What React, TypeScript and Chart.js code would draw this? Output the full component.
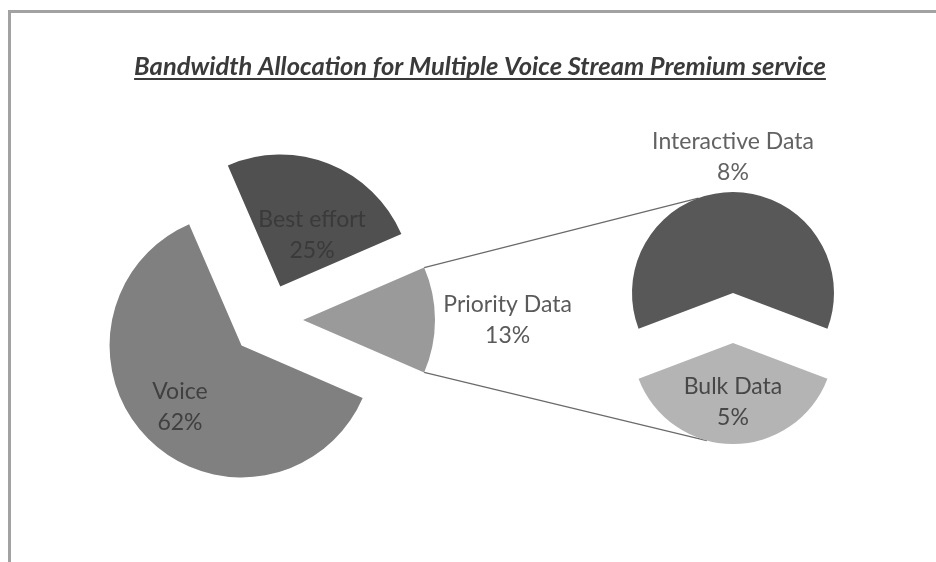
import React, { useEffect, useRef } from "react";
import { Chart, registerables } from "chart.js";
Chart.register(...registerables);

// ---- data ----
const TITLE = "Bandwidth Allocation for Multiple Voice Stream Premium service";
const mainLabels = ["Best effort", "Priority Data", "Voice"];
const mainValues = [25, 13, 62];
const subLabels = ["Interactive Data", "Bulk Data"];
const subValues = [8, 5];

// ---- styles ----
const mainColors = ["#505050", "#9a9a9a", "#808080"];
const subColors = ["#585858", "#b4b4b4"];
const mainTextColors = ["#3a3a3a", "#5a5a5a", "#404040"];
const subTextColors = ["#626262", "#474747"];
const mainLabelRadial = [0.46, 1.55, 0.66];
const mainLabelShift = [10, 0, 0];
const subLabelRadial = [1.35, 0.58];
const subLabelShift = [0, 0];
const LABEL_FONT = '23px Lato, "Open Sans", sans-serif';
const LINE_GAP = 31;

// explode distance (px) and drawn radius (px) per pie
const MAIN_EXPLODE = 36;
const MAIN_RADIUS = 132;
const SUB_EXPLODE = 25;
const SUB_RADIUS = 101;

const W = 936;
const H = 562;

function sum(a: number[]) {
  return a.reduce((s, v) => s + v, 0);
}

// Chart.js arcs translate by offset/4 and grow radius by (offset/4)*fix while
// trimming the angle; this returns the geometry that is actually drawn.
function radiusGrowth(el: any) {
  const t = (el.options.offset || 0) / 4;
  const fix = 1 - Math.sin(Math.min(Math.PI, el.circumference || 0));
  return { t, ro: t * fix };
}

function vertexOf(el: any) {
  const { t, ro } = radiusGrowth(el);
  const mid = (el.startAngle + el.endAngle) / 2;
  const r = el.outerRadius + ro;
  const ao = ro / (2 * Math.PI * r);
  return {
    vx: el.x + Math.cos(mid) * t,
    vy: el.y + Math.sin(mid) * t,
    mid,
    r,
    start: el.startAngle + ao,
    end: el.endAngle - ao,
  };
}

// keep every exploded slice at the dataset radius and full angle (like a classic exploded pie)
const explodeFixPlugin = {
  id: "explodeFix",
  afterDatasetUpdate(chart: any, args: any) {
    const meta = args.meta;
    meta.data.forEach((el: any) => {
      if (!el.options) return;
      const { ro } = radiusGrowth(el);
      const R = el.outerRadius;
      const ao = ro / (2 * Math.PI * R);
      el.outerRadius = R - ro;
      el.startAngle -= ao;
      el.endAngle += ao;
    });
  },
};

function makeLabelPlugin(labels: string[], values: number[], colors: string[], radial: number[], shift: number[]) {
  return {
    id: "sliceLabels",
    afterDatasetsDraw(chart: any) {
      const meta = chart.getDatasetMeta(0);
      const ctx = chart.ctx;
      ctx.save();
      ctx.font = LABEL_FONT;
      ctx.textAlign = "center";
      ctx.textBaseline = "middle";
      meta.data.forEach((el: any, i: number) => {
        const v = vertexOf(el);
        const a = v.mid + (shift[i] * Math.PI) / 180;
        const d = v.r * radial[i];
        const lx = v.vx + Math.cos(a) * d;
        const ly = v.vy + Math.sin(a) * d;
        ctx.fillStyle = colors[i];
        ctx.fillText(labels[i], lx, ly - LINE_GAP / 2);
        ctx.fillText(`${values[i]}%`, lx, ly + LINE_GAP / 2);
      });
      ctx.restore();
    },
  };
}

const titlePlugin = {
  id: "underlinedTitle",
  afterDraw(chart: any) {
    const ctx = chart.ctx;
    ctx.save();
    ctx.font = 'italic bold 25.5px Lato, "Open Sans", sans-serif';
    ctx.fillStyle = "#3a3a3a";
    ctx.textAlign = "center";
    ctx.textBaseline = "alphabetic";
    const cx = 480;
    const by = 75;
    ctx.fillText(TITLE, cx, by);
    const w = ctx.measureText(TITLE).width;
    ctx.strokeStyle = "#3a3a3a";
    ctx.lineWidth = 2;
    ctx.beginPath();
    ctx.moveTo(cx - w / 2, by + 4);
    ctx.lineTo(cx + w / 2, by + 4);
    ctx.stroke();
    ctx.restore();
  },
};

export default function App() {
  const mainRef = useRef<HTMLCanvasElement>(null);
  const subRef = useRef<HTMLCanvasElement>(null);

  useEffect(() => {
    const mainTotal = sum(mainValues);
    const pdIndex = 1;
    const before = sum(mainValues.slice(0, pdIndex));
    const mainRotation = 90 - ((before + mainValues[pdIndex] / 2) / mainTotal) * 360;
    const subTotal = sum(subValues);
    const subRotation = -((subValues[0] / 2) / subTotal) * 360;

    const main = new Chart(mainRef.current!, {
      type: "pie",
      data: {
        labels: mainLabels,
        datasets: [
          {
            data: mainValues,
            backgroundColor: mainColors,
            borderWidth: 0,
            offset: MAIN_EXPLODE * 4,
            radius: MAIN_RADIUS,
            rotation: mainRotation,
          } as any,
        ],
      },
      options: {
        responsive: false,
        animation: false,
        events: [],
        devicePixelRatio: 1,
        rotation: mainRotation,
        layout: { padding: { left: 0, right: 402, top: 78, bottom: 0 } },
        plugins: { legend: { display: false }, title: { display: false }, tooltip: { enabled: false } },
      } as any,
      plugins: [
        explodeFixPlugin,
        makeLabelPlugin(mainLabels, mainValues, mainTextColors, mainLabelRadial, mainLabelShift),
        titlePlugin,
      ],
    });

    const connectorPlugin = {
      id: "connectors",
      beforeDatasetsDraw(chart: any) {
        const pdEl = main.getDatasetMeta(0).data[pdIndex];
        const meta = chart.getDatasetMeta(0);
        if (!pdEl || !meta.data.length) return;
        const p = vertexOf(pdEl);
        const top = vertexOf(meta.data[0]);
        const bot = vertexOf(meta.data[1]);
        const aTop = (-110 * Math.PI) / 180;
        const aBot = (105 * Math.PI) / 180;
        const ctx = chart.ctx;
        ctx.save();
        ctx.strokeStyle = "#6a6a6a";
        ctx.lineWidth = 1.2;
        ctx.beginPath();
        ctx.moveTo(p.vx + Math.cos(p.start) * p.r, p.vy + Math.sin(p.start) * p.r);
        ctx.lineTo(top.vx + Math.cos(aTop) * top.r, top.vy + Math.sin(aTop) * top.r);
        ctx.moveTo(p.vx + Math.cos(p.end) * p.r, p.vy + Math.sin(p.end) * p.r);
        ctx.lineTo(bot.vx + Math.cos(aBot) * bot.r, bot.vy + Math.sin(aBot) * bot.r);
        ctx.stroke();
        ctx.restore();
      },
    };

    const sub = new Chart(subRef.current!, {
      type: "pie",
      data: {
        labels: subLabels,
        datasets: [
          {
            data: subValues,
            backgroundColor: subColors,
            borderWidth: 0,
            offset: SUB_EXPLODE * 4,
            radius: SUB_RADIUS,
            rotation: subRotation,
          } as any,
        ],
      },
      options: {
        responsive: false,
        animation: false,
        events: [],
        devicePixelRatio: 1,
        rotation: subRotation,
        layout: { padding: { left: 530, right: 0, top: 74, bottom: 0 } },
        plugins: { legend: { display: false }, title: { display: false }, tooltip: { enabled: false } },
      } as any,
      plugins: [
        explodeFixPlugin,
        connectorPlugin,
        makeLabelPlugin(subLabels, subValues, subTextColors, subLabelRadial, subLabelShift),
      ],
    });

    return () => {
      sub.destroy();
      main.destroy();
    };
  }, []);

  const abs: React.CSSProperties = { position: "absolute", left: 0, top: 0 };
  return (
    <div style={{ position: "absolute", left: 0, top: 0, width: W, height: H, background: "#ffffff", overflow: "hidden" }}>
      <div
        style={{
          position: "absolute",
          left: 8,
          top: 10,
          width: W,
          height: H,
          borderTop: "3px solid #a2a2a2",
          borderLeft: "3px solid #a2a2a2",
        }}
      />
      <canvas ref={mainRef} width={W} height={H} style={abs} />
      <canvas ref={subRef} width={W} height={H} style={abs} />
    </div>
  );
}
